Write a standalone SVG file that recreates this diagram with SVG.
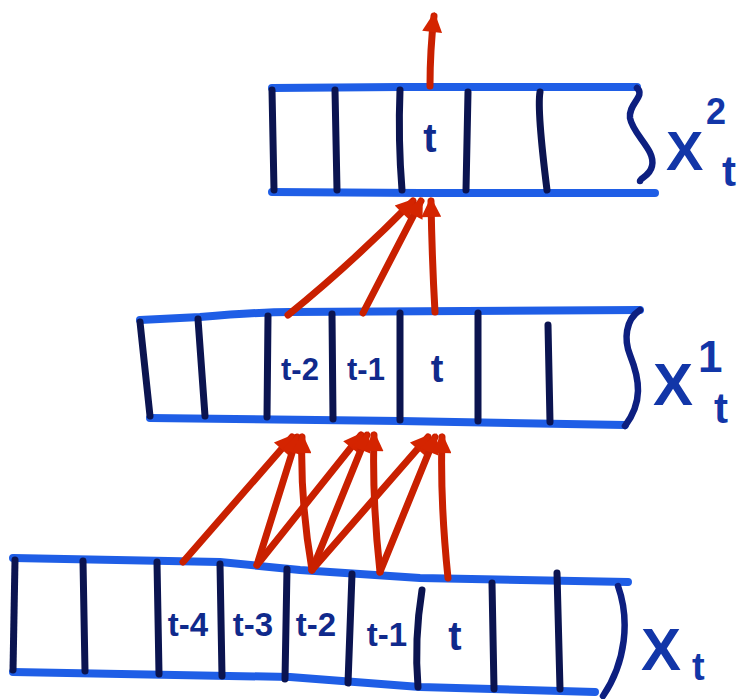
<svg xmlns="http://www.w3.org/2000/svg" width="748" height="699" viewBox="0 0 748 699">
<style>
.h{fill:none;stroke:#1f5ee6;stroke-width:8;stroke-linecap:round;stroke-linejoin:round}
.v{fill:none;stroke:#0b1450;stroke-width:7;stroke-linecap:round}
.br{fill:none;stroke:#0d1f80;stroke-width:6.5;stroke-linecap:round}
.lab{font-family:"Liberation Sans",Arial,sans-serif;font-weight:bold;fill:#102a8c;text-anchor:middle}
.big{font-family:"Liberation Sans",Arial,sans-serif;font-weight:bold;fill:#1236a8}
.ar{fill:none;stroke:#c92000;stroke-width:7;stroke-linecap:round;marker-end:url(#ah)}
</style>
<defs>
<marker id="ah" viewBox="0 0 10 10" refX="8" refY="5" markerWidth="24" markerHeight="20" markerUnits="userSpaceOnUse" orient="auto">
<path d="M0,0 L10,5 L0,10 z" fill="#d42400"/>
</marker>
</defs>
<rect width="748" height="699" fill="#ffffff"/>

<g id="layer-x2">
<path class="h" d="M272,88 L400,87 L637,87"/>
<path class="h" d="M272,192 L420,193 L655,193"/>
<path class="v" d="M272,90 L274,190"/>
<path class="v" d="M335,90 L337,190"/>
<path class="v" d="M400,90 Q398,140 402,190"/>
<path class="v" d="M468,92 L466,190"/>
<path class="v" d="M540,92 Q537,110 547,190"/>
<path class="br" d="M637,88 C646,96 628,104 630,118 C633,135 656,150 652,166 C650,176 640,178 640,181"/>
<g id="x2-t"><text class="lab" x="430" y="152" font-size="40">t</text></g>
<text class="big" x="666" y="170" font-size="56">X</text>
<text class="big" x="706" y="124" font-size="36">2</text>
<text class="big" x="722" y="186" font-size="42">t</text>
</g>

<g id="layer-x1">
<path class="h" d="M140,320 L200,317 Q260,312 290,312 L640,310"/>
<path class="h" d="M150,418 L400,421 L625,425"/>
<path class="v" d="M140,322 L150,416"/>
<path class="v" d="M198,319 L205,416"/>
<path class="v" d="M268,316 L267,417"/>
<path class="v" d="M332,314 L333,419"/>
<path class="v" d="M400,313 L400,420"/>
<path class="v" d="M478,313 L478,421"/>
<path class="v" d="M548,325 L550,422"/>
<path class="br" d="M640,310 C625,320 624,340 630,355 C640,380 643,402 625,426"/>
<g id="x1-t-2"><text class="lab" x="300" y="380" font-size="31">t-2</text></g>
<g id="x1-t-1"><text class="lab" x="366" y="380" font-size="31">t-1</text></g>
<g id="x1-t"><text class="lab" x="437" y="382" font-size="38">t</text></g>
<text class="big" x="653" y="405" font-size="60">X</text>
<text class="big" x="698" y="372" font-size="44">1</text>
<text class="big" x="714" y="423" font-size="42">t</text>
</g>

<g id="layer-x">
<path class="h" d="M13,558 L220,562 L300,570 L420,578 L628,582"/>
<path class="h" d="M13,672 L290,677 L420,687 L595,692"/>
<path class="v" d="M15,560 L13,670"/>
<path class="v" d="M83,561 L85,671"/>
<path class="v" d="M157,562 L159,674"/>
<path class="v" d="M220,564 L222,676"/>
<path class="v" d="M287,569 L285,679"/>
<path class="v" d="M352,574 L348,683"/>
<path class="v" d="M422,590 Q414,640 418,687"/>
<path class="v" d="M492,583 L494,689"/>
<path class="v" d="M557,573 L560,689"/>
<path class="br" d="M618,586 C630,620 626,662 603,696"/>
<g id="x-t-4"><text class="lab" x="188" y="636" font-size="33">t-4</text></g>
<g id="x-t-3"><text class="lab" x="253" y="636" font-size="33">t-3</text></g>
<g id="x-t-2"><text class="lab" x="316" y="636" font-size="33">t-2</text></g>
<g id="x-t-1"><text class="lab" x="387" y="646" font-size="33">t-1</text></g>
<g id="x-t"><text class="lab" x="455" y="650" font-size="40">t</text></g>
<text class="big" x="641" y="670" font-size="60">X</text>
<text class="big" x="692" y="680" font-size="38">t</text>
</g>

<g id="connectors">
<path class="ar" d="M183,562 L292,437"/>
<path class="ar" d="M257,565 L297,437"/>
<path class="ar" d="M312,570 Q300,500 302,437"/>
<path class="ar" d="M257,565 L361,435"/>
<path class="ar" d="M312,570 L367,435"/>
<path class="ar" d="M380,572 Q372,500 374,435"/>
<path class="ar" d="M312,570 L428,437"/>
<path class="ar" d="M380,572 L435,437"/>
<path class="ar" d="M448,578 Q440,500 442,437"/>
<path class="ar" d="M288,315 Q350,265 413,201"/>
<path class="ar" d="M363,313 L421,201"/>
<path class="ar" d="M435,312 Q432,260 431,201"/>
<path class="ar" d="M430,86 Q430,50 434,16"/>
</g>
</svg>
